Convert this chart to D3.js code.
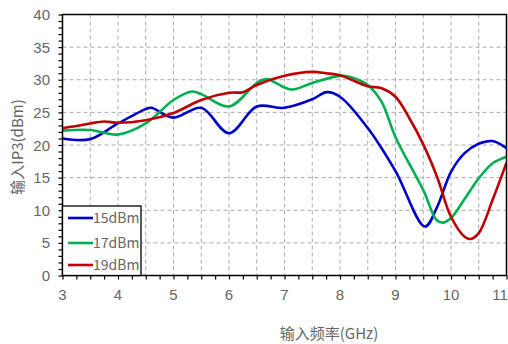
<!DOCTYPE html>
<html>
<head>
<meta charset="utf-8">
<script src="https://cdn.jsdelivr.net/npm/d3@7"></script>
<style>
  body { margin: 0; background: #fff; }
  svg { display: block; }
  .tick-label { font-family: "Liberation Sans", Arial, sans-serif; font-size: 15px; fill: #666; }
  .title { font-family: "Noto Sans CJK SC", sans-serif; font-size: 15px; fill: #666; }
  .legend-text { font-family: "Noto Sans CJK SC", sans-serif; font-size: 14px; fill: #666; }
</style>
</head>
<body>
<svg id="chart" width="508" height="344"></svg>
<script>
// frequency points (GHz) and IP3 values (dBm) per series
const freq15 = [3.0, 3.5, 4.0, 4.5, 4.6, 5.0, 5.5, 6.0, 6.5, 7.0, 7.5, 7.76, 8.0, 8.5, 9.0, 9.53, 9.75, 10.0, 10.25, 10.5, 10.75, 11.0]
const ip3_15 = [21.0, 20.9, 23.3, 25.5, 25.7, 24.2, 25.7, 21.8, 25.9, 25.7, 27.0, 28.1, 27.4, 22.6, 16.0, 7.5, 10.5, 15.9, 18.8, 20.2, 20.6, 19.5]

const freq17 = [3.0, 3.5, 4.0, 4.5, 5.0, 5.33, 5.5, 6.0, 6.5, 6.68, 7.0, 7.15, 7.5, 8.0, 8.2, 8.5, 8.75, 9.0, 9.5, 9.74, 9.86, 10.0, 10.25, 10.5, 10.75, 11.0]
const ip3_17 = [22.2, 22.3, 21.6, 23.3, 26.9, 28.2, 27.8, 25.9, 29.5, 30.1, 28.8, 28.5, 29.5, 30.6, 30.4, 29.2, 26.6, 21.2, 13.1, 8.5, 8.1, 8.8, 11.8, 14.9, 17.2, 18.2]

const freq19 = [3.0, 3.25, 3.5, 3.75, 4.0, 4.5, 5.0, 5.5, 6.0, 6.25, 6.5, 7.0, 7.5, 7.75, 8.0, 8.5, 8.75, 9.0, 9.25, 9.5, 9.75, 10.0, 10.25, 10.35, 10.5, 10.75, 11.0]
const ip3_19 = [22.6, 22.9, 23.3, 23.6, 23.4, 23.8, 24.9, 26.9, 28.0, 28.1, 29.2, 30.6, 31.2, 31.0, 30.7, 29.0, 28.7, 27.4, 24.1, 20.1, 15.1, 9.0, 5.9, 5.6, 6.5, 11.6, 17.3]

const seriesNames = ['15dBm', '17dBm', '19dBm']
const seriesColors = ['#0000cc', '#00b050', '#c00000']

const xTicks = [3, 4, 5, 6, 7, 8, 9, 10, 11]
const yTicks = [0, 5, 10, 15, 20, 25, 30, 35, 40]

const xTitle = '输入频率(GHz)'
const yTitle = '输入IP3(dBm)'

const series = [
  { name: seriesNames[0], color: seriesColors[0], values: freq15.map((f, i) => ({ x: f, y: ip3_15[i] })) },
  { name: seriesNames[1], color: seriesColors[1], values: freq17.map((f, i) => ({ x: f, y: ip3_17[i] })) },
  { name: seriesNames[2], color: seriesColors[2], values: freq19.map((f, i) => ({ x: f, y: ip3_19[i] })) }
]

const plot = { left: 62.5, right: 506.5, top: 14.5, bottom: 275.5 }

const svg = d3.select('#chart')

const x = d3.scaleLinear().domain([3, 11]).range([plot.left, plot.right])
const y = d3.scaleLinear().domain([0, 40]).range([plot.bottom, plot.top])

// grid
const grid = svg.append('g').attr('class', 'grid')
grid.selectAll('line.vgrid')
  .data(d3.range(3.5, 11, 0.5))
  .enter()
  .append('line')
  .attr('x1', d => x(d))
  .attr('x2', d => x(d))
  .attr('y1', plot.top)
  .attr('y2', plot.bottom)
  .attr('stroke', '#aaa')
  .attr('stroke-dasharray', '4,3')

grid.selectAll('line.hgrid')
  .data(yTicks.slice(1, -1))
  .enter()
  .append('line')
  .attr('x1', plot.left)
  .attr('x2', plot.right)
  .attr('y1', d => y(d))
  .attr('y2', d => y(d))
  .attr('stroke', '#aaa')
  .attr('stroke-dasharray', '4,3')

// axes (ticks only, labels drawn by hand so the font matches)
const xAxis = d3.axisBottom(x)
  .tickValues(d3.range(3, 11.01, 0.25))
  .tickSize(4)
  .tickFormat('')
svg.append('g')
  .attr('transform', `translate(0,${plot.bottom})`)
  .call(xAxis)
  .call(g => g.select('.domain').remove())
  .call(g => g.selectAll('line').attr('stroke', '#000').attr('stroke-width', 1.2))

const yAxis = d3.axisLeft(y)
  .tickValues(d3.range(0, 40.01, 1))
  .tickSize(4)
  .tickFormat('')
svg.append('g')
  .attr('transform', `translate(${plot.left},0)`)
  .call(yAxis)
  .call(g => g.select('.domain').remove())
  .call(g => g.selectAll('line').attr('stroke', '#000').attr('stroke-width', 1.2))

svg.selectAll('text.xlabel')
  .data(xTicks)
  .enter()
  .append('text')
  .attr('class', 'tick-label')
  .attr('x', d => Math.min(x(d), 500))
  .attr('y', 300)
  .attr('text-anchor', 'middle')
  .text(d => d)

svg.selectAll('text.ylabel')
  .data(yTicks)
  .enter()
  .append('text')
  .attr('class', 'tick-label')
  .attr('x', 50)
  .attr('y', d => y(d) + 5.5)
  .attr('text-anchor', 'end')
  .text(d => d)

// lines
const line = d3.line()
  .x(d => x(d.x))
  .y(d => y(d.y))
  .curve(d3.curveCatmullRom.alpha(0.5))

svg.append('defs').append('clipPath')
  .attr('id', 'plot-clip')
  .append('rect')
  .attr('x', plot.left)
  .attr('y', plot.top)
  .attr('width', plot.right - plot.left)
  .attr('height', plot.bottom - plot.top)

svg.append('g')
  .attr('clip-path', 'url(#plot-clip)')
  .selectAll('path')
  .data(series)
  .enter()
  .append('path')
  .attr('d', d => line(d.values))
  .attr('fill', 'none')
  .attr('stroke', d => d.color)
  .attr('stroke-width', 2.6)
  .attr('stroke-linejoin', 'round')

// frame
svg.append('rect')
  .attr('x', plot.left)
  .attr('y', plot.top)
  .attr('width', plot.right - plot.left)
  .attr('height', plot.bottom - plot.top)
  .attr('fill', 'none')
  .attr('stroke', '#000')
  .attr('stroke-width', 1.5)

// legend
const legend = svg.append('g').attr('class', 'legend')
legend.append('rect')
  .attr('x', plot.left)
  .attr('y', 206)
  .attr('width', 78.5)
  .attr('height', plot.bottom - 206)
  .attr('fill', '#fff')
  .attr('stroke', '#000')
  .attr('stroke-width', 1.3)

const legendRowY = [218, 243, 265]
const items = legend.selectAll('g.item')
  .data(series)
  .enter()
  .append('g')
  .attr('transform', (d, i) => `translate(0,${legendRowY[i]})`)

items.append('line')
  .attr('x1', 68)
  .attr('x2', 93)
  .attr('stroke', d => d.color)
  .attr('stroke-width', 2.6)

items.append('text')
  .attr('class', 'legend-text')
  .attr('x', 93)
  .attr('y', 5)
  .text(d => d.name)

// axis titles
svg.append('text')
  .attr('class', 'title')
  .attr('x', 329)
  .attr('y', 339)
  .attr('text-anchor', 'middle')
  .text(xTitle)

svg.append('text')
  .attr('class', 'title')
  .attr('transform', 'translate(23,147) rotate(-90)')
  .attr('text-anchor', 'middle')
  .text(yTitle)
</script>
</body>
</html>
